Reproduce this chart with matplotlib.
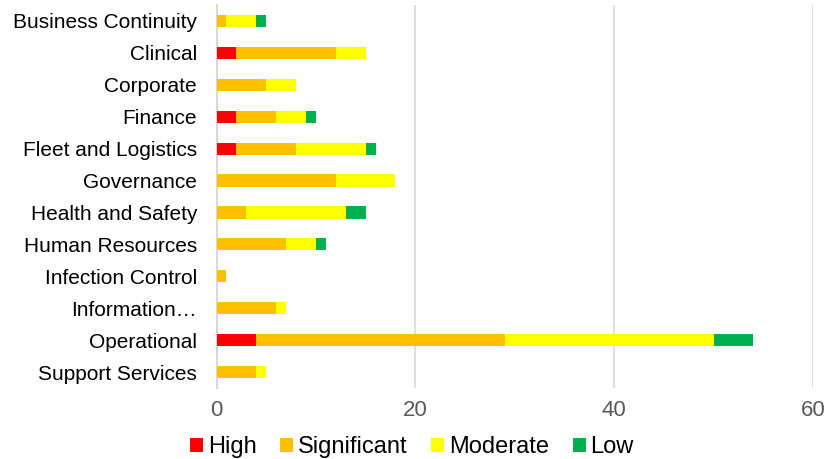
import matplotlib
matplotlib.use("Agg")
import matplotlib.pyplot as plt
import numpy as np

plt.rcParams['font.family'] = ['Liberation Sans', 'DejaVu Sans']

categories = ["Business Continuity", "Clinical", "Corporate", "Finance", "Fleet and Logistics",
              "Governance", "Health and Safety", "Human Resources", "Infection Control",
              "Information…", "Operational", "Support Services"]
high = [0, 2, 0, 2, 2, 0, 0, 0, 0, 0, 4, 0]
significant = [1, 10, 5, 4, 6, 12, 3, 7, 1, 6, 25, 4]
moderate = [3, 3, 3, 3, 7, 6, 10, 3, 0, 1, 21, 1]
low = [1, 0, 0, 1, 1, 0, 2, 1, 0, 0, 4, 0]
series_names = ["High", "Significant", "Moderate", "Low"]
colors = ["#FF0000", "#FFC000", "#FFFF00", "#00B050"]
xticks = [0, 20, 40, 60]

fig = plt.figure(figsize=(8.27, 4.59), dpi=100)
ax = fig.add_axes([216.5/827, 1 - 388/459, (813 - 216.5)/827, (388 - 5)/459])

y = np.arange(len(categories))
left = np.zeros(len(categories))
for vals, name, c in zip([high, significant, moderate, low], series_names, colors):
    ax.barh(y, vals, left=left, height=0.38, color=c, label=name, zorder=3)
    left += np.array(vals)

ax.set_ylim(len(categories) - 0.5, -0.5)
ax.set_xlim(0, 60)
ax.set_xticks(xticks)
ax.set_yticks(y)
ax.set_yticklabels(categories, fontsize=15, color='black')
ax.tick_params(axis='x', labelsize=16, colors='#595959', length=0, pad=9)
ax.tick_params(axis='y', length=0, pad=14)
ax.grid(axis='x', color='#D9D9D9', linewidth=1.2, zorder=0)
for s in ['top', 'right', 'bottom']:
    ax.spines[s].set_visible(False)
ax.spines['left'].set_color('#D9D9D9')
ax.spines['left'].set_linewidth(1.5)

fig.legend(loc='center', bbox_to_anchor=(412/827, 1 - 447/459), ncol=4, frameon=False,
           fontsize=17, handlelength=0.55, handleheight=0.55, handletextpad=0.2,
           columnspacing=1.0, borderpad=0)

fig.savefig("out.png", dpi=100)
